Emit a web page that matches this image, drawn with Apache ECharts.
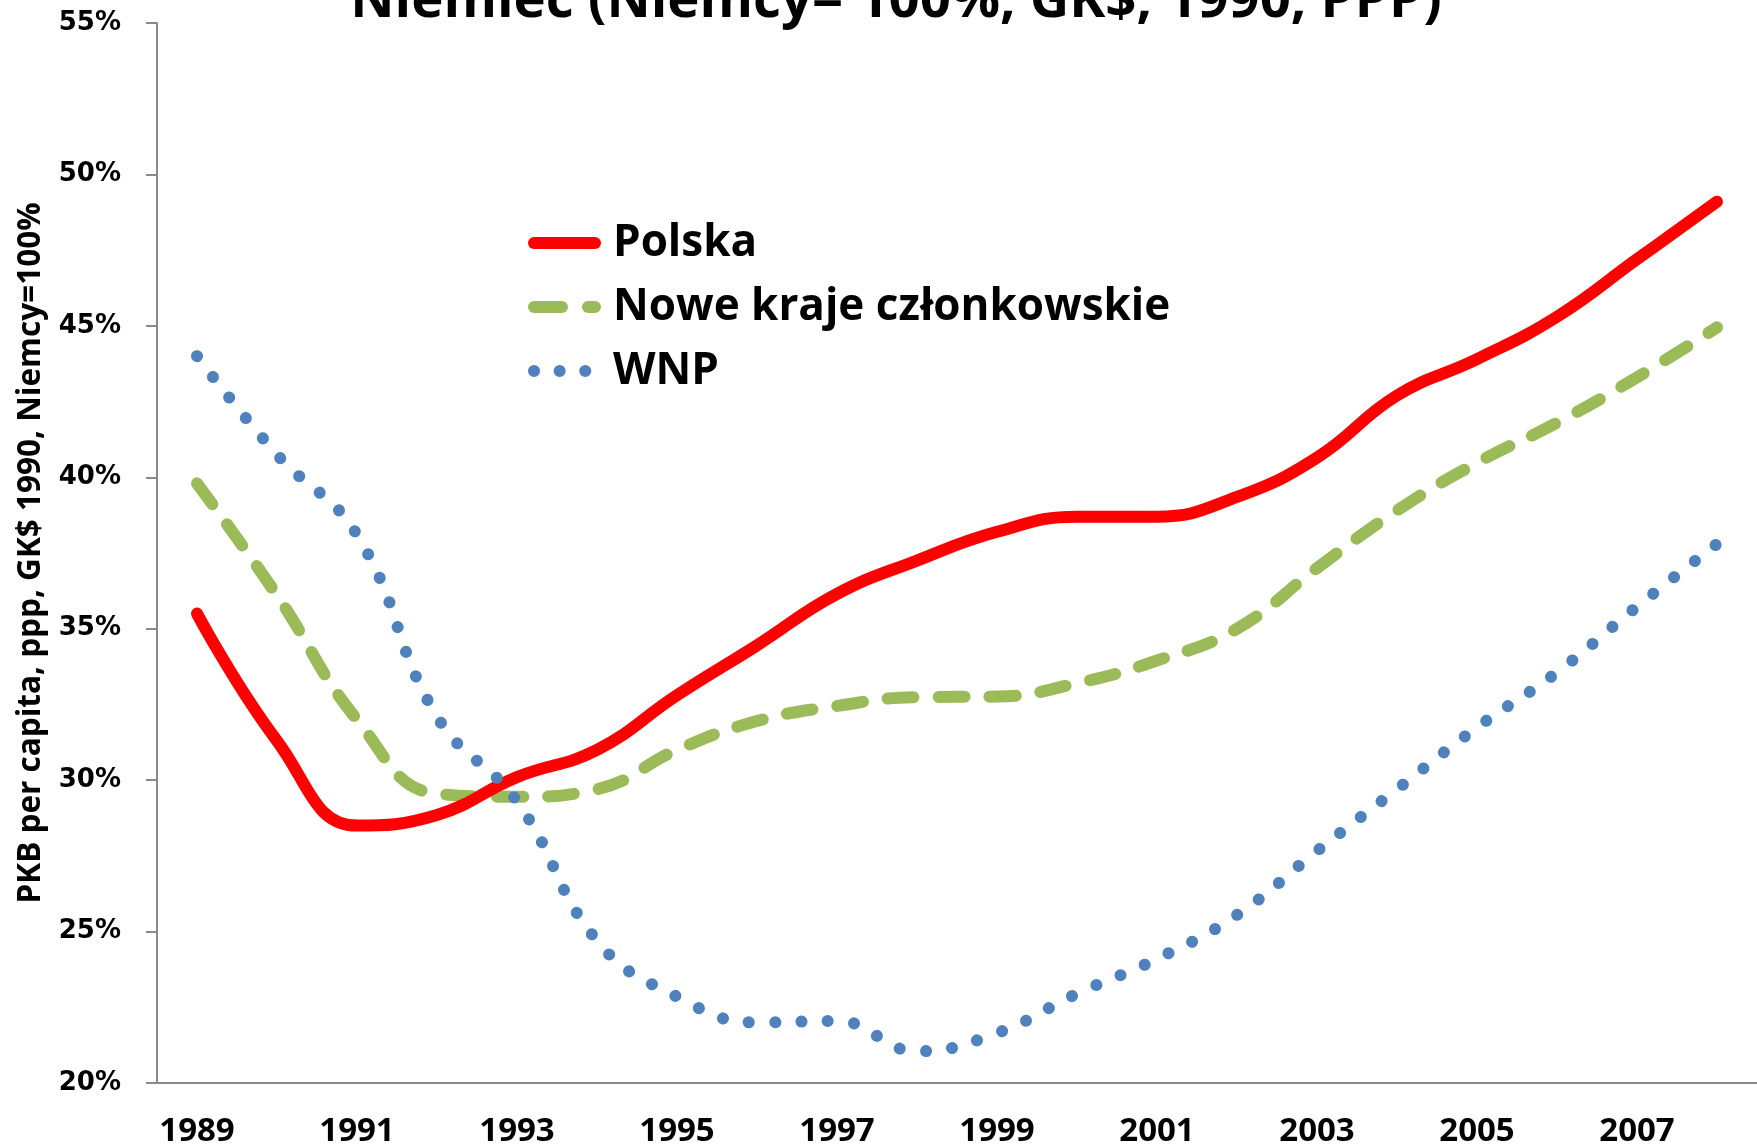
<!DOCTYPE html>
<html>
<head>
<meta charset="utf-8">
<script src="https://cdn.jsdelivr.net/npm/echarts@6/dist/echarts.min.js"></script>
<style>
  html, body { margin: 0; padding: 0; background: #fff; }
  #chart { width: 1757px; height: 1148px; }
</style>
</head>
<body>
<div id="chart"></div>
<script>
// years on the category axis
const years = ['1989', '1990', '1991', '1992', '1993', '1994', '1995', '1996', '1997', '1998',
               '1999', '2000', '2001', '2002', '2003', '2004', '2005', '2006', '2007', '2008'];

// GDP per capita, % of Germany
const polska = [35.5, 31.3, 28.5, 28.85, 30.1, 31.0, 32.8, 34.45, 36.15, 37.25,
                38.2, 38.7, 38.7, 39.35, 40.65, 42.7, 43.9, 45.3, 47.2, 49.1];
const noweKraje = [39.8, 36.1, 32.0, 29.55, 29.45, 29.7, 31.0, 31.95, 32.45, 32.74,
                   32.76, 33.2, 33.95, 35.0, 37.0, 38.9, 40.48, 41.8, 43.3, 44.95];
const wnp = [44.0, 40.75, 38.1, 32.1, 29.3, 24.7, 22.85, 22.0, 22.05, 21.05,
             21.65, 22.95, 24.1, 25.55, 27.66, 29.7, 31.74, 33.56, 35.73, 37.8];

const titleText = 'Niemiec (Niemcy= 100%, GK$, 1990, PPP)';
const yAxisTitle = 'PKB per capita, ppp, GK$ 1990, Niemcy=100%';

const axisGray = '#898989';
const red = '#ff0000';
const green = '#9bbb59';
const blue = '#4f81bd';

const chart = echarts.init(document.getElementById('chart'));

chart.setOption({
    animation: false,
    backgroundColor: '#fff',
    title: {
        text: titleText,
        left: 891,
        textAlign: 'center',
        top: -31.5,
        textStyle: {
            fontFamily: 'Open Sans',
            fontWeight: 'bold',
            fontSize: 54.5,
            color: '#000'
        }
    },
    legend: {
        orient: 'vertical',
        left: 528,
        top: 220,
        padding: 0,
        itemWidth: 61,
        itemHeight: 14,
        itemGap: 18,
        // hide the small marker ECharts puts in the middle of line icons
        itemStyle: { color: 'rgba(0,0,0,0)', borderWidth: 0, opacity: 0 },
        data: [
            { name: 'Polska', lineStyle: { color: red, width: 12, type: 'solid', cap: 'round' } },
            { name: 'Nowe kraje członkowskie', lineStyle: { color: green, width: 12, type: [28, 26], cap: 'round' } },
            { name: 'WNP', lineStyle: { color: blue, width: 12, type: [0.1, 25.5], cap: 'round' } }
        ],
        textStyle: {
            fontFamily: 'Open Sans',
            fontWeight: 'bold',
            fontSize: 44,
            lineHeight: 46,
            color: '#000',
            padding: [0, 0, 0, 13]
        }
    },
    grid: {
        left: 157,
        top: 23,
        bottom: 63,
        right: -6
    },
    xAxis: {
        type: 'category',
        data: years,
        boundaryGap: true,
        axisLine: { lineStyle: { color: axisGray, width: 2 } },
        axisTick: { interval: 1, length: 12, lineStyle: { color: axisGray, width: 2 } },
        axisLabel: {
            interval: 1,
            margin: 32,
            fontFamily: 'Open Sans',
            fontWeight: 'bold',
            fontSize: 33,
            color: '#000'
        },
        splitLine: { show: false }
    },
    yAxis: {
        type: 'value',
        min: 20,
        max: 55,
        interval: 5,
        name: yAxisTitle,
        nameLocation: 'middle',
        nameGap: 110,
        nameTextStyle: {
            fontFamily: 'Open Sans',
            fontWeight: 'bold',
            fontSize: 31.5,
            color: '#000'
        },
        axisLine: { show: true, lineStyle: { color: axisGray, width: 2 } },
        axisTick: { show: true, length: 11, lineStyle: { color: axisGray, width: 2 } },
        axisLabel: {
            formatter: '{value}%',
            margin: 36,
            fontFamily: 'DejaVu Sans',
            fontWeight: 'bold',
            fontSize: 26,
            color: '#000'
        },
        splitLine: { show: false }
    },
    series: [
        {
            name: 'Polska',
            type: 'line',
            data: polska,
            smooth: 0.45,
            symbol: 'none',
            color: red,
            lineStyle: { color: red, width: 12, cap: 'round', join: 'round' },
            z: 4
        },
        {
            name: 'Nowe kraje członkowskie',
            type: 'line',
            data: noweKraje,
            smooth: 0.45,
            symbol: 'none',
            color: green,
            lineStyle: { color: green, width: 12, type: [26, 25], cap: 'round', join: 'round' },
            z: 3
        },
        {
            name: 'WNP',
            type: 'line',
            data: wnp,
            smooth: 0.45,
            symbol: 'none',
            color: blue,
            lineStyle: { color: blue, width: 12, type: [0.1, 26.2], cap: 'round', join: 'round' },
            z: 5
        }
    ]
});
</script>
</body>
</html>
